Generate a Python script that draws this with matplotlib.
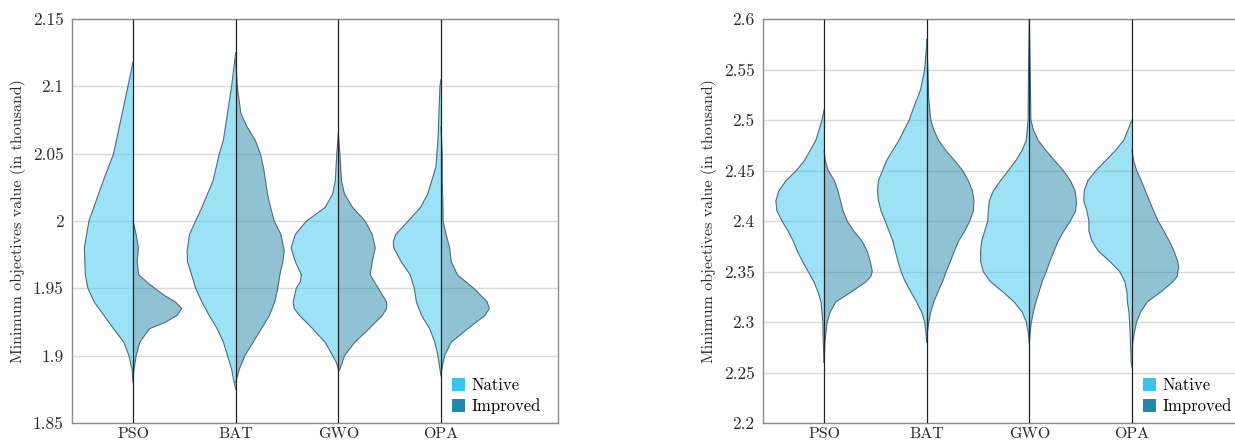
#!/usr/bin/env python3
import matplotlib
matplotlib.use("Agg")
import matplotlib.pyplot as plt
from matplotlib.patches import Patch

plt.rcParams["font.family"] = "serif"
plt.rcParams["font.serif"] = ["cmr10", "DejaVu Serif"]
plt.rcParams["axes.formatter.use_mathtext"] = True

methods = ["PSO", "BAT", "GWO", "OPA"]

# half-violin outlines: (value, half width in category units)
# left panel
l_pso_native = [(2.118, 0), (2.1, 0.05), (2.05, 0.19), (2.03, 0.29), (2.0, 0.43), (1.98, 0.475),
                (1.96, 0.465), (1.95, 0.44), (1.94, 0.38), (1.92, 0.19), (1.91, 0.09), (1.9, 0.04),
                (1.89, 0.01), (1.88, 0)]
l_pso_improved = [(2.0, 0), (1.99, 0.03), (1.98, 0.052), (1.97, 0.04), (1.96, 0.055), (1.953, 0.16),
                  (1.945, 0.3), (1.94, 0.41), (1.935, 0.474), (1.93, 0.43), (1.925, 0.32), (1.92, 0.16),
                  (1.91, 0.066), (1.9, 0.03), (1.89, 0.01), (1.885, 0)]
l_bat_native = [(2.125, 0), (2.1, 0.04), (2.08, 0.08), (2.06, 0.12), (2.05, 0.16), (2.03, 0.22),
                (2.01, 0.33), (2.0, 0.39), (1.99, 0.45), (1.978, 0.473), (1.97, 0.47), (1.96, 0.43),
                (1.95, 0.39), (1.94, 0.33), (1.93, 0.26), (1.92, 0.18), (1.91, 0.12), (1.9, 0.08),
                (1.89, 0.04), (1.88, 0.015), (1.875, 0)]
l_bat_improved = [(2.12, 0), (2.1, 0.015), (2.08, 0.05), (2.07, 0.11), (2.06, 0.19), (2.05, 0.24),
                  (2.04, 0.27), (2.03, 0.29), (2.02, 0.31), (2.01, 0.34), (2.0, 0.375), (1.99, 0.44),
                  (1.978, 0.473), (1.97, 0.46), (1.96, 0.43), (1.95, 0.41), (1.94, 0.38), (1.93, 0.33),
                  (1.92, 0.25), (1.91, 0.17), (1.9, 0.09), (1.89, 0.035), (1.88, 0)]
l_gwo_native = [(2.065, 0), (2.05, 0.015), (2.03, 0.03), (2.02, 0.055), (2.01, 0.13), (2.0, 0.31),
                (1.99, 0.42), (1.98, 0.46), (1.97, 0.42), (1.96, 0.36), (1.955, 0.37), (1.95, 0.41),
                (1.94, 0.44), (1.935, 0.43), (1.93, 0.38), (1.92, 0.25), (1.91, 0.13), (1.9, 0.055),
                (1.895, 0.02), (1.89, 0)]
l_gwo_improved = [(2.065, 0), (2.05, 0.015), (2.03, 0.03), (2.02, 0.06), (2.01, 0.14), (2.0, 0.26),
                  (1.99, 0.33), (1.98, 0.36), (1.97, 0.33), (1.96, 0.31), (1.95, 0.39), (1.94, 0.47),
                  (1.935, 0.47), (1.93, 0.43), (1.92, 0.3), (1.91, 0.16), (1.9, 0.06), (1.89, 0.015),
                  (1.888, 0)]
l_opa_native = [(2.105, 0), (2.1, 0.01), (2.06, 0.03), (2.04, 0.05), (2.02, 0.13), (2.01, 0.2),
                (2.0, 0.32), (1.99, 0.44), (1.985, 0.465), (1.98, 0.46), (1.97, 0.39), (1.96, 0.3),
                (1.95, 0.26), (1.94, 0.24), (1.93, 0.19), (1.92, 0.11), (1.91, 0.06), (1.9, 0.03),
                (1.89, 0.01), (1.885, 0)]
l_opa_improved = [(2.07, 0), (2.05, 0.012), (2.03, 0.012), (2.01, 0.02), (2.0, 0.02), (1.99, 0.05),
                  (1.98, 0.085), (1.97, 0.1), (1.96, 0.16), (1.95, 0.32), (1.94, 0.45), (1.935, 0.47),
                  (1.93, 0.43), (1.92, 0.26), (1.91, 0.1), (1.9, 0.035), (1.89, 0.008), (1.887, 0)]

# right panel
r_pso_native = [(2.51, 0), (2.5, 0.02), (2.48, 0.08), (2.46, 0.19), (2.45, 0.27), (2.44, 0.37),
                (2.43, 0.44), (2.42, 0.47), (2.41, 0.46), (2.4, 0.41), (2.39, 0.35), (2.38, 0.3),
                (2.37, 0.26), (2.36, 0.21), (2.35, 0.155), (2.34, 0.1), (2.33, 0.06), (2.32, 0.03),
                (2.3, 0.012), (2.28, 0.008), (2.26, 0)]
r_pso_improved = [(2.47, 0), (2.46, 0.012), (2.45, 0.04), (2.44, 0.1), (2.43, 0.135), (2.42, 0.16),
                  (2.41, 0.185), (2.4, 0.225), (2.39, 0.29), (2.38, 0.37), (2.37, 0.42), (2.36, 0.45),
                  (2.35, 0.47), (2.345, 0.455), (2.34, 0.41), (2.33, 0.27), (2.32, 0.115), (2.31, 0.06),
                  (2.3, 0.03), (2.28, 0.008), (2.26, 0)]
r_bat_native = [(2.575, 0), (2.55, 0.02), (2.53, 0.06), (2.51, 0.135), (2.5, 0.17), (2.48, 0.27),
                (2.46, 0.39), (2.45, 0.43), (2.44, 0.47), (2.43, 0.48), (2.42, 0.47), (2.41, 0.445),
                (2.4, 0.405), (2.38, 0.33), (2.36, 0.28), (2.35, 0.25), (2.34, 0.21), (2.33, 0.155),
                (2.32, 0.1), (2.31, 0.05), (2.3, 0.02), (2.29, 0.008), (2.28, 0)]
r_bat_improved = [(2.58, 0), (2.55, 0.012), (2.52, 0.02), (2.5, 0.04), (2.49, 0.07), (2.48, 0.115),
                  (2.47, 0.185), (2.46, 0.27), (2.45, 0.35), (2.44, 0.405), (2.43, 0.445), (2.42, 0.46),
                  (2.41, 0.455), (2.4, 0.42), (2.39, 0.37), (2.38, 0.31), (2.37, 0.27), (2.36, 0.23),
                  (2.35, 0.19), (2.34, 0.155), (2.33, 0.11), (2.32, 0.07), (2.31, 0.04), (2.3, 0.02),
                  (2.29, 0.008), (2.28, 0)]
r_gwo_native = [(2.6, 0), (2.55, 0.008), (2.5, 0.012), (2.48, 0.03), (2.47, 0.07), (2.46, 0.13),
                (2.45, 0.205), (2.44, 0.28), (2.43, 0.35), (2.42, 0.39), (2.41, 0.4), (2.4, 0.405),
                (2.39, 0.435), (2.38, 0.465), (2.37, 0.475), (2.36, 0.475), (2.35, 0.45), (2.34, 0.38),
                (2.33, 0.26), (2.32, 0.15), (2.31, 0.07), (2.3, 0.03), (2.29, 0.012), (2.28, 0)]
r_gwo_improved = [(2.6, 0), (2.55, 0.008), (2.5, 0.015), (2.49, 0.04), (2.48, 0.085), (2.47, 0.16),
                  (2.46, 0.245), (2.45, 0.33), (2.44, 0.4), (2.43, 0.445), (2.418, 0.46), (2.41, 0.45),
                  (2.4, 0.4), (2.39, 0.335), (2.38, 0.28), (2.37, 0.24), (2.36, 0.2), (2.35, 0.165),
                  (2.34, 0.125), (2.33, 0.095), (2.32, 0.065), (2.31, 0.04), (2.3, 0.02), (2.29, 0.008),
                  (2.28, 0)]
r_opa_native = [(2.5, 0), (2.49, 0.04), (2.48, 0.08), (2.47, 0.16), (2.46, 0.255), (2.45, 0.35),
                (2.44, 0.43), (2.43, 0.465), (2.42, 0.47), (2.41, 0.44), (2.4, 0.42), (2.39, 0.42),
                (2.38, 0.39), (2.37, 0.325), (2.36, 0.215), (2.35, 0.12), (2.34, 0.07), (2.33, 0.05),
                (2.32, 0.045), (2.31, 0.03), (2.3, 0.023), (2.28, 0.015), (2.26, 0.008), (2.255, 0)]
r_opa_improved = [(2.47, 0), (2.46, 0.015), (2.45, 0.045), (2.44, 0.09), (2.43, 0.13), (2.42, 0.17),
                  (2.41, 0.21), (2.4, 0.255), (2.39, 0.31), (2.38, 0.365), (2.37, 0.41), (2.36, 0.445),
                  (2.355, 0.455), (2.345, 0.44), (2.34, 0.4), (2.33, 0.285), (2.32, 0.15), (2.31, 0.085),
                  (2.3, 0.045), (2.29, 0.023), (2.28, 0.008), (2.27, 0)]

left_ticks = [1.85, 1.9, 1.95, 2.0, 2.05, 2.1, 2.15]
left_tick_labels = ["1.85", "1.9", "1.95", "2", "2.05", "2.1", "2.15"]
right_ticks = [2.2, 2.25, 2.3, 2.35, 2.4, 2.45, 2.5, 2.55, 2.6]
right_tick_labels = ["2.2", "2.25", "2.3", "2.35", "2.4", "2.45", "2.5", "2.55", "2.6"]

native_color = "#3cc4ef"
improved_color = "#2387a8"
edge_color = "#4a6e7c"
text_color = "#2a2a2a"

fig = plt.figure(figsize=(12.35, 4.41), dpi=100)
ax1 = fig.add_axes([72 / 1235, 18 / 441, 486 / 1235, 404 / 441])
ax2 = fig.add_axes([763 / 1235, 18 / 441, 486 / 1235, 404 / 441])


def half_violin(ax, pos, outline, color, side):
    ys = [p[0] for p in outline]
    ws = [p[1] for p in outline]
    xs = [pos + side * w for w in ws]
    ax.fill_betweenx(ys, pos, xs, facecolor=color, alpha=0.5, edgecolor="none", zorder=2)
    ax.plot(xs, ys, color=edge_color, lw=0.8, zorder=3)


def draw_panel(ax, natives, improveds, ticks, tick_labels):
    for i, (nat, imp) in enumerate(zip(natives, improveds)):
        half_violin(ax, i, nat, native_color, -1)
        half_violin(ax, i, imp, improved_color, 1)
    ax.set_ylim(ticks[0], ticks[-1])
    ax.set_xlim(-0.595, 4.14)
    ax.vlines(range(len(methods)), ticks[0], ticks[-1], color="#222222", lw=0.9, zorder=4)
    ax.set_yticks(ticks)
    ax.set_yticklabels(tick_labels)
    ax.set_xticks(range(len(methods)))
    ax.set_xticklabels(methods)
    ax.tick_params(length=0, colors=text_color)
    ax.tick_params(axis="y", pad=6, labelsize=12.5)
    ax.tick_params(axis="x", pad=3, labelsize=11.5)
    ax.yaxis.grid(True, color="#d9d9d9", lw=1)
    ax.set_axisbelow(True)
    for s in ax.spines.values():
        s.set_color("#8a8a8a")
        s.set_linewidth(1.0)
    ax.set_ylabel("Minimum objectives value (in thousand)", fontsize=11.5, color=text_color, labelpad=5)
    handles = [Patch(facecolor=native_color, label="Native"),
               Patch(facecolor=improved_color, label="Improved")]
    ax.legend(handles=handles, loc="lower left", bbox_to_anchor=(380 / 486, 9 / 404), frameon=False,
              fontsize=12, handlelength=0.8, handleheight=0.8, handletextpad=0.35,
              labelspacing=0.3, borderaxespad=0, borderpad=0)


draw_panel(ax1, [l_pso_native, l_bat_native, l_gwo_native, l_opa_native],
           [l_pso_improved, l_bat_improved, l_gwo_improved, l_opa_improved],
           left_ticks, left_tick_labels)
draw_panel(ax2, [r_pso_native, r_bat_native, r_gwo_native, r_opa_native],
           [r_pso_improved, r_bat_improved, r_gwo_improved, r_opa_improved],
           right_ticks, right_tick_labels)

fig.savefig("out.png", dpi=100)
